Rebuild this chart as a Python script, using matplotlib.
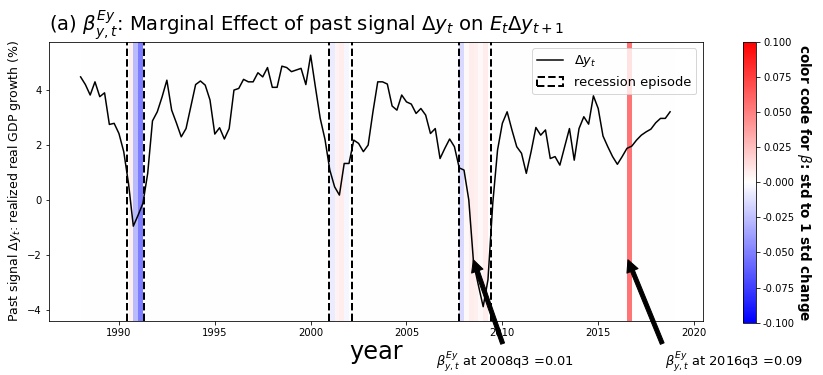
import numpy as np
import matplotlib
matplotlib.use("Agg")
import matplotlib.pyplot as plt
from matplotlib.patches import Patch
from matplotlib.lines import Line2D

# realized real GDP growth, quarterly from 1988q1
start_year = 1988.0
gdp_growth = [
    4.48, 4.2, 3.82, 4.3, 3.76, 3.9, 2.75, 2.79,          # 1988-1989
    2.42, 1.76, 0.6, -0.95, -0.55, -0.12, 0.97, 2.88,     # 1990-1991
    3.21, 3.75, 4.36, 3.27, 2.8, 2.3, 2.6, 3.4,           # 1992-1993
    4.2, 4.33, 4.18, 3.64, 2.4, 2.63, 2.22, 2.6,          # 1994-1995
    4.0, 4.06, 4.39, 4.3, 4.3, 4.63, 4.48, 4.82,          # 1996-1997
    4.1, 4.1, 4.87, 4.82, 4.67, 4.73, 4.79, 4.2,          # 1998-1999
    5.27, 4.1, 2.97, 2.2, 1.09, 0.48, 0.18, 1.33,         # 2000-2001
    1.33, 2.18, 2.06, 1.76, 2.0, 3.21, 4.3, 4.3,          # 2002-2003
    4.22, 3.42, 3.27, 3.82, 3.57, 3.49, 3.15, 3.33,       # 2004-2005
    3.09, 2.42, 2.6, 1.51, 1.88, 2.22, 1.94, 1.17,        # 2006-2007
    1.09, 0.0, -2.3, -3.1, -3.88, -2.9, -0.12, 1.82,      # 2008-2009
    2.79, 3.21, 2.55, 1.94, 1.7, 0.97, 1.76, 2.64,        # 2010-2011
    2.36, 2.55, 1.51, 1.58, 1.27, 1.94, 2.6, 1.45,        # 2012-2013
    2.6, 3.03, 2.76, 3.79, 3.33, 2.33, 1.94, 1.58,        # 2014-2015
    1.3, 1.58, 1.88, 1.96, 2.18, 2.36, 2.48, 2.58,        # 2016-2017
    2.81, 2.97, 2.97, 3.21,                               # 2018
]

# quarters with a visible beta colour (all others ~0)
beta_quarter = [1990.5, 1990.75, 1991.0, 2001.0, 2001.25, 2001.5, 2001.75,
                2007.75, 2008.0, 2008.25, 2008.5, 2008.75, 2009.0, 2016.5]
beta_value = [0.01, -0.045, -0.085, -0.012, 0.008, 0.012, -0.006,
              -0.025, 0.004, 0.012, 0.01, 0.004, 0.012, 0.09]

# recession episode boundaries
recession_lines = [1990.42, 1991.33, 2000.95, 2002.15, 2007.72, 2009.42]

quarters = start_year + 0.25 * np.arange(len(gdp_growth))
beta_map = dict(zip(beta_quarter, beta_value))

cmap = plt.get_cmap("bwr")
norm = matplotlib.colors.Normalize(vmin=-0.1, vmax=0.1)

fig = plt.figure(figsize=(823 / 72, 375 / 72), dpi=72)
ax = fig.add_axes([0.0595, 0.1448, 0.7943, 0.744])
cax = fig.add_axes([0.9032, 0.1395, 0.0154, 0.7493])

for q in quarters:
    b = beta_map.get(round(q, 2), 0.0)
    ax.axvspan(q, q + 0.25, color=cmap(norm(b)), alpha=0.6, lw=0)

ax.plot(quarters, gdp_growth, color="black", lw=1.5)
for r in recession_lines:
    ax.axvline(r, color="black", ls="--", lw=2)

ax.set_xlim(1986.35, 2020.45)
ax.set_ylim(-4.39, 5.76)
ax.set_xticks([1990, 1995, 2000, 2005, 2010, 2015, 2020])
ax.set_yticks([-4, -2, 0, 2, 4])
ax.set_xlabel("year", fontsize=24, labelpad=2)
ax.set_ylabel(r"Past signal $\Delta y_t$: realized real GDP growth (%)", fontsize=12.5)
ax.set_title(r"(a) $\beta^{Ey}_{y,t}$: Marginal Effect of past signal $\Delta y_t$ on $E_t\Delta y_{t+1}$",
             fontsize=19.6, loc="left")

handles = [Line2D([], [], color="black", lw=1.5),
           Patch(facecolor="none", edgecolor="black", ls="--", lw=2)]
ax.legend(handles, [r"$\Delta y_t$", "recession episode"], loc="upper right", fontsize=13)

ax.annotate(r"$\beta^{Ey}_{y,t}$ at 2008q3 =0.01", xy=(2008.4, -2.0),
            xytext=(505, 1), textcoords="figure pixels", ha="center", va="bottom",
            fontsize=13, arrowprops=dict(facecolor="black", shrink=0.05))
ax.annotate(r"$\beta^{Ey}_{y,t}$ at 2016q3 =0.09", xy=(2016.45, -2.0),
            xytext=(665, 1), textcoords="figure pixels", ha="left", va="bottom",
            fontsize=13, arrowprops=dict(facecolor="black", shrink=0.05))

sm = matplotlib.cm.ScalarMappable(norm=norm, cmap=cmap)
cb = fig.colorbar(sm, cax=cax, ticks=np.arange(-0.1, 0.1001, 0.025), format="%.3f")
cb.set_label(r"color code for $\beta$: std to 1 std change", rotation=270,
             fontsize=13.5, fontweight="bold", labelpad=18)

fig.savefig("out.png", dpi=72)
